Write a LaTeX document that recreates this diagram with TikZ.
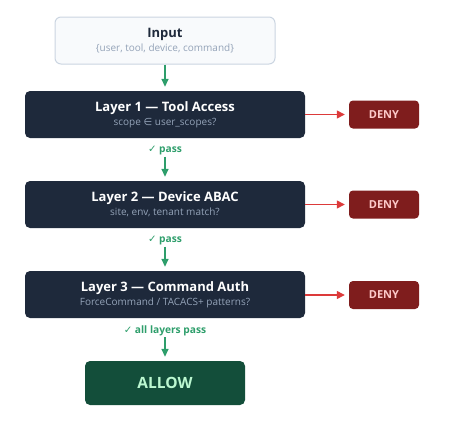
\documentclass[tikz,border=0pt]{standalone}
\usepackage{fontspec}
\setmainfont{Open Sans}
\newfontfamily\symfont{DejaVu Sans}
\usetikzlibrary{arrows.meta,positioning}

\definecolor{slate}{HTML}{1E293B}
\definecolor{slatetext}{HTML}{94A3B8}
\definecolor{inputfill}{HTML}{F8FAFC}
\definecolor{inputline}{HTML}{CBD5E1}
\definecolor{denyfill}{HTML}{7F1D1D}
\definecolor{denytext}{HTML}{FECACA}
\definecolor{allowfill}{HTML}{134E3A}
\definecolor{allowtext}{HTML}{BBF7D0}
\definecolor{passgreen}{HTML}{2E9E6B}
\definecolor{denyred}{HTML}{DC3A3A}

\tikzset{
  layerbox/.style={fill=slate, rounded corners=5pt, minimum width=280pt,
    minimum height=47pt, align=center, inner sep=0pt},
  denybox/.style={fill=denyfill, rounded corners=4pt, minimum width=70pt,
    minimum height=28pt, inner sep=0pt, text=denytext,
    font=\fontsize{11}{13}\selectfont\bfseries},
  passlabel/.style={text=passgreen, inner sep=1pt,
    font=\fontsize{10.2}{12}\selectfont\bfseries},
  passarrow/.style={-{Triangle[length=8pt,width=7pt]}, draw=passgreen,
    line width=1.5pt, shorten >=4pt},
  denyarrow/.style={-{Triangle[length=8pt,width=8pt]}, draw=denyred,
    line width=1.3pt, shorten >=4pt}
}

\newcommand{\boxtitle}[1]{{\fontsize{13}{15}\selectfont\bfseries #1}}
\newcommand{\boxsub}[1]{{\fontsize{10}{12}\selectfont\color{slatetext}#1}}

\begin{document}
\begin{tikzpicture}[x=1pt,y=-1pt]

% Page size of the reference
\useasboundingbox (0,0) rectangle (458,442);

% Input record
\node[draw=inputline, line width=1pt, fill=inputfill, rounded corners=6pt,
  minimum width=220pt, minimum height=47pt, align=center, inner sep=0pt]
  (input) at (165,40.5)
  {\textcolor{slate}{\boxtitle{Input}}\\[2pt]\boxsub{\{user, tool, device, command\}}};

% The three layers
\node[layerbox] (layer1) at (165,114.5)
  {\textcolor{white}{\boxtitle{Layer 1 — Tool Access}}\\[2pt]
   \boxsub{scope {\symfont∈} user\_scopes?}};
\node[layerbox] (layer2) at (165,204.5)
  {\textcolor{white}{\boxtitle{Layer 2 — Device ABAC}}\\[2pt]
   \boxsub{site, env, tenant match?}};
\node[layerbox] (layer3) at (165,294.5)
  {\textcolor{white}{\boxtitle{Layer 3 — Command Auth}}\\[2pt]
   \boxsub{ForceCommand / TACACS+ patterns?}};

% Deny exits, one per layer
\node[denybox] (deny1) at (384,114.5) {DENY};
\node[denybox] (deny2) at (384,204.5) {DENY};
\node[denybox] (deny3) at (384,295) {DENY};

% Final result
\node[fill=allowfill, rounded corners=5pt, minimum width=160pt,
  minimum height=44pt, inner sep=0pt, text=allowtext,
  font=\fontsize{15.5}{18}\selectfont\bfseries] (allow) at (165,383) {ALLOW};

% Pass labels between the layers
\node[passlabel] (pass1) at (165,151) {{\symfont ✓} pass};
\node[passlabel] (pass2) at (165,241) {{\symfont ✓} pass};
\node[passlabel] (pass3) at (165,331) {{\symfont ✓} all layers pass};

% Construct the arrows
\draw[passarrow] (input) -- (layer1);
\draw[passarrow] (pass1) -- (layer2);
\draw[passarrow] (pass2) -- (layer3);
\draw[passarrow] (pass3) -- (allow);
\draw[denyarrow] (layer1) -- (deny1);
\draw[denyarrow] (layer2) -- (deny2);
\draw[denyarrow] (layer3.east |- deny3) -- (deny3);

\end{tikzpicture}
\end{document}
